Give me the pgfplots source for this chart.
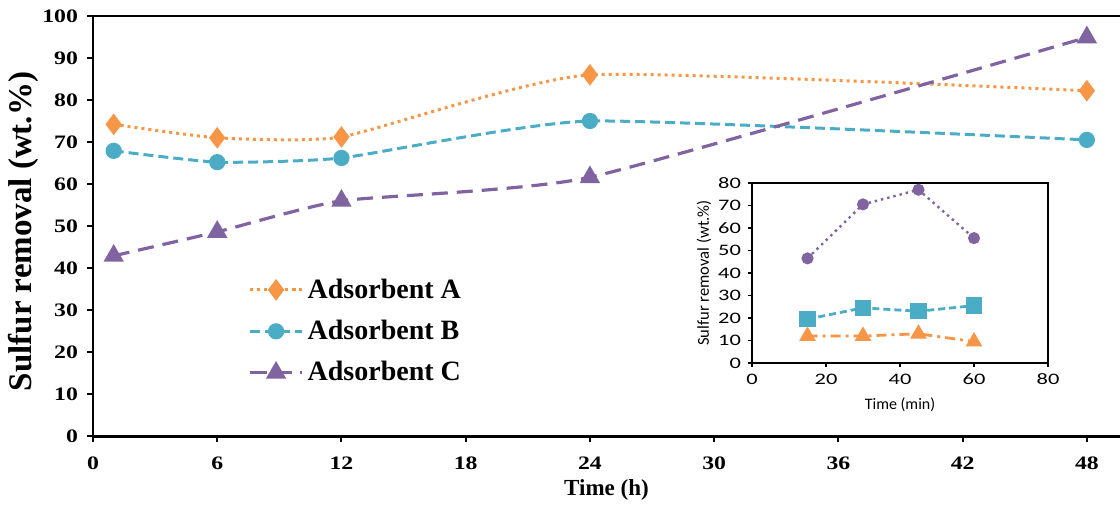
\documentclass[border=0pt]{standalone}
\usepackage{fontspec}
\setmainfont{Liberation Serif}
\newfontfamily\calfont{Carlito}
\usepackage{graphicx}
\usepackage{pgfplots}
\pgfplotsset{compat=1.18}

\definecolor{cA}{HTML}{F79646}
\definecolor{cB}{HTML}{4BACC6}
\definecolor{cC}{HTML}{8064A2}

\begin{document}
\begin{tikzpicture}
\useasboundingbox (-46.5pt,-34pt) rectangle (513.5pt,218pt);
\begin{axis}[
    name=main,
    at={(0pt,0pt)}, anchor=south west,
    scale only axis,
    width=513.5pt, height=210pt,
    xmin=0, xmax=49.6, ymin=0, ymax=100,
    axis x line*=bottom, axis y line*=left,
    x axis line style={line width=1.5pt,-},
    y axis line style={line width=0.6pt,-},
    xtick={0,6,...,48}, ytick={0,10,...,100},
    tick align=outside, major tick length=3pt,
    tick style={line width=1pt, black},
    ticklabel style={font=\bfseries\fontsize{9.5}{10}\selectfont},
    xticklabel={\scalebox{1.25}[1]{\pgfmathprintnumber[assume math mode=true]{\tick}}},
    yticklabel={\scalebox{1.25}[1]{\pgfmathprintnumber[assume math mode=true]{\tick}}},
    xticklabel style={yshift=-4pt},
    yticklabel style={xshift=-1pt},
    every axis x label/.style={at={(axis description cs:0.5,0)}, yshift=-27pt, anchor=center},
    every axis y label/.style={at={(axis description cs:0,0.487)}, xshift=-35pt, rotate=90, anchor=center},
    xlabel={\bfseries\fontsize{11.5}{12}\selectfont Time (h)},
    ylabel={\bfseries\fontsize{16.5}{17}\selectfont Sulfur removal (wt.\%)},
    legend style={draw=none, fill=none, at={(0.151,0.385)}, anchor=north west,
        font=\bfseries\fontsize{14}{15}\selectfont, row sep=5.5pt, inner sep=0pt},
    legend cell align=left,
    legend image code/.code={\draw[mark repeat=2,mark phase=2,#1] plot coordinates {(0pt,0pt) (13pt,0pt) (26pt,0pt)};},
]
\addplot[cA, line width=1.5pt, dash pattern=on 1.5pt off 2pt, smooth, tension=0.3, mark=diamond*, mark size=4.2pt, mark options={solid}]
    coordinates {(1,74.2) (6,71.0) (12,71.2) (24,86.0) (48,82.2)};
\addlegendentry{Adsorbent A}
\addplot[cB, line width=1.5pt, dash pattern=on 5pt off 2.5pt, smooth, tension=0.3, mark=*, mark size=3.3pt, mark options={solid}]
    coordinates {(1,67.9) (6,65.2) (12,66.2) (24,75.0) (48,70.5)};
\addlegendentry{Adsorbent B}
\addplot[cC, line width=1.6pt, dash pattern=on 8pt off 4.5pt, smooth, tension=0.3, mark=triangle*, mark size=4.3pt, mark options={solid}]
    coordinates {(1,42.9) (6,48.6) (12,56.0) (24,61.6) (48,94.9)};
\addlegendentry{Adsorbent C}
\draw[line width=1pt] (rel axis cs:0,1) -- (rel axis cs:1,1);
\end{axis}

\begin{axis}[
    at={(329.5pt,36.5pt)}, anchor=south west,
    scale only axis,
    width=148pt, height=90pt,
    xmin=0, xmax=80, ymin=0, ymax=80,
    axis background/.style={fill=white},
    axis line style={line width=0.7pt},
    xtick={0,20,...,80}, ytick={0,10,...,80},
    tick align=outside, major tick length=2pt,
    tick style={line width=0.6pt, black},
    xtick pos=bottom, ytick pos=left,
    ticklabel style={font=\calfont\fontsize{8}{9}\selectfont},
    xticklabel={\scalebox{1.4}[1]{\pgfmathprintnumber[assume math mode=true]{\tick}}},
    yticklabel={\scalebox{1.4}[1]{\pgfmathprintnumber[assume math mode=true]{\tick}}},
    every axis x label/.style={at={(axis description cs:0.5,0)}, yshift=-21pt, anchor=center},
    every axis y label/.style={at={(axis description cs:0,0.5)}, xshift=-24pt, rotate=90, anchor=center},
    xlabel={\calfont\fontsize{8}{9}\selectfont Time (min)},
    ylabel={\calfont\fontsize{8.3}{9}\selectfont Sulfur removal (wt.\%)},
]
\addplot[cC, line width=1.2pt, dash pattern=on 1.2pt off 2pt, mark=*, mark size=2.4pt, mark options={solid}]
    coordinates {(15,46.5) (30,70.5) (45,77.0) (60,55.5)};
\addplot[cB, line width=1.4pt, dash pattern=on 3.5pt off 2pt, mark=square*, mark size=3.4pt, mark options={solid}]
    coordinates {(15,19.5) (30,24.5) (45,23.0) (60,25.5)};
\addplot[cA, line width=1.4pt, dash pattern=on 5pt off 2.5pt on 1.5pt off 2.5pt, mark=triangle*, mark size=3.4pt, mark options={solid}]
    coordinates {(15,12.0) (30,12.0) (45,13.0) (60,9.5)};
\end{axis}
\end{tikzpicture}
\end{document}
